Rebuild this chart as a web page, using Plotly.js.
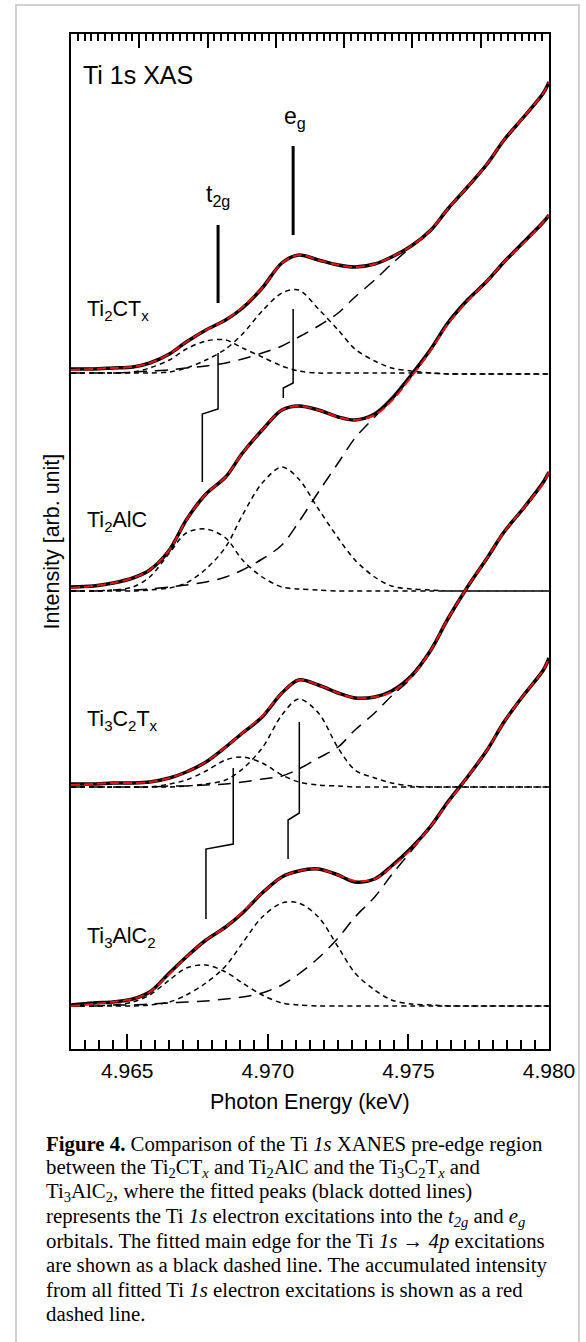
<!DOCTYPE html>
<html>
<head>
<meta charset="utf-8">
<script src="https://cdn.plot.ly/plotly-3.0.1.min.js"></script>
<style>
  html, body { margin: 0; padding: 0; background: #ffffff; }
  #chart { width: 586px; height: 1342px; }
</style>
</head>
<body>
<div id="chart"></div>
<script>
// ---------------- DATA ----------------
const energy = [4.9630, 4.9638, 4.9645, 4.9652, 4.9658, 4.9665, 4.9671, 4.9678, 4.9685, 4.9691,
                4.9698, 4.9705, 4.9711, 4.9718, 4.9725, 4.9731, 4.9738, 4.9744, 4.9751, 4.9758,
                4.9764, 4.9771, 4.9778, 4.9784, 4.9791, 4.9798, 4.9800];

// Ti2CTx (offset spectrum, top)
const ti2ctxData = [68.0, 68.0, 68.1, 68.2, 68.6, 69.5, 70.7, 71.9, 72.9, 74.1, 76.1, 78.6, 79.4, 78.9, 78.4, 78.2, 78.5, 79.2, 80.3, 81.9, 84.0, 86.2, 88.5, 90.9, 93.2, 95.6, 96.7];
const ti2ctxFit  = [67.9, 68.0, 68.1, 68.2, 68.6, 69.5, 70.7, 71.9, 72.9, 74.2, 76.1, 78.6, 79.4, 78.9, 78.4, 78.2, 78.5, 79.2, 80.3, 81.9, 84.0, 86.2, 88.5, 90.9, 93.2, 95.6, 96.7];
const ti2ctxEdge = [67.6, 67.6, 67.6, 67.7, 67.8, 67.9, 68.1, 68.3, 68.6, 69.0, 69.6, 70.3, 71.2, 72.3, 73.6, 75.2, 76.9, 78.5, 80.2, 81.8, 83.9, 86.1, 88.4, 90.8, 93.1, 95.5, 96.6];
const ti2ctxT2g  = [67.6, 67.6, 67.6, 67.7, 68.1, 68.9, 70.0, 70.8, 70.9, 70.1, 69.2, 68.3, 67.8, 67.6, 67.6, 67.6, 67.6, 67.6, 67.6, 67.6, 67.5, 67.5, 67.5, 67.5, 67.5, 67.5, 67.5];
const ti2ctxEg   = [67.6, 67.6, 67.6, 67.6, 67.6, 67.7, 68.1, 68.9, 70.0, 71.5, 73.8, 75.6, 75.9, 74.0, 71.9, 70.0, 68.8, 68.1, 67.8, 67.6, 67.5, 67.5, 67.5, 67.5, 67.5, 67.5, 67.5];

// Ti2AlC
const ti2alcData = [46.2, 46.3, 46.6, 47.1, 47.9, 49.9, 52.9, 55.5, 57.2, 59.6, 61.9, 63.9, 64.3, 63.9, 63.2, 62.9, 63.5, 65.0, 67.4, 70.0, 72.6, 74.9, 76.8, 78.7, 80.7, 82.7, 83.4];
const ti2alcFit  = [46.1, 46.3, 46.6, 47.1, 47.9, 49.9, 52.9, 55.5, 57.2, 59.6, 61.9, 63.9, 64.3, 63.9, 63.2, 62.9, 63.4, 64.8, 67.2, 69.9, 72.5, 74.8, 76.8, 78.7, 80.6, 82.7, 83.4];
const ti2alcEdge = [45.8, 45.8, 45.9, 45.9, 46.0, 46.2, 46.4, 46.7, 47.2, 47.9, 49.0, 50.4, 52.7, 55.7, 58.6, 61.1, 63.2, 65.0, 67.3, 69.9, 72.5, 74.8, 76.7, 78.6, 80.6, 82.6, 83.3];
const ti2alcT2g  = [45.8, 45.8, 45.9, 46.2, 47.2, 49.6, 51.6, 52.0, 51.1, 48.9, 47.2, 46.2, 46.0, 45.9, 45.8, 45.8, 45.8, 45.8, 45.8, 45.8, 45.8, 45.8, 45.8, 45.8, 45.8, 45.8, 45.8];
const ti2alcEg   = [45.8, 45.8, 45.8, 45.8, 45.9, 46.1, 46.6, 48.0, 50.2, 53.4, 56.6, 58.2, 57.0, 54.0, 51.1, 48.9, 47.2, 46.3, 46.0, 45.9, 45.8, 45.8, 45.8, 45.8, 45.8, 45.8, 45.8];

// Ti3C2Tx
const ti3c2txData = [26.5, 26.5, 26.6, 26.6, 26.7, 27.1, 27.7, 28.7, 30.2, 31.6, 33.2, 35.6, 36.9, 36.4, 35.6, 35.1, 35.2, 35.8, 37.3, 39.9, 43.0, 46.2, 49.1, 51.7, 54.1, 56.7, 57.7];
const ti3c2txFit  = [26.4, 26.5, 26.6, 26.6, 26.7, 27.1, 27.7, 28.7, 30.2, 31.6, 33.3, 35.6, 36.9, 36.4, 35.6, 35.1, 35.2, 35.7, 37.2, 39.9, 43.0, 46.2, 49.1, 51.7, 54.1, 56.6, 57.7];
const ti3c2txEdge = [26.2, 26.2, 26.2, 26.2, 26.2, 26.3, 26.3, 26.4, 26.5, 26.7, 27.0, 27.3, 28.0, 29.1, 30.2, 31.9, 33.6, 35.3, 37.1, 39.8, 42.9, 46.1, 49.0, 51.6, 54.0, 56.6, 57.6];
const ti3c2txT2g  = [26.2, 26.2, 26.2, 26.2, 26.2, 26.5, 26.9, 27.8, 28.9, 29.2, 28.6, 27.4, 26.7, 26.4, 26.3, 26.2, 26.2, 26.2, 26.2, 26.2, 26.2, 26.2, 26.2, 26.2, 26.2, 26.2, 26.2];
const ti3c2txEg   = [26.2, 26.2, 26.2, 26.2, 26.2, 26.2, 26.3, 26.5, 26.9, 28.0, 30.1, 33.4, 35.0, 33.6, 30.1, 27.9, 27.1, 26.6, 26.3, 26.2, 26.2, 26.2, 26.2, 26.2, 26.2, 26.2, 26.2];

// Ti3AlC2 (bottom)
const ti3alc2Data = [4.4, 4.6, 4.7, 5.0, 5.7, 7.6, 9.2, 10.9, 12.2, 13.6, 15.6, 17.2, 17.8, 18.0, 17.4, 16.7, 17.0, 18.3, 20.1, 22.3, 24.7, 27.2, 29.9, 32.7, 35.4, 37.9, 39.1];
const ti3alc2Fit  = [4.3, 4.5, 4.7, 5.0, 5.7, 7.5, 9.2, 10.9, 12.2, 13.7, 15.6, 17.2, 17.8, 18.0, 17.4, 16.8, 17.0, 18.2, 20.0, 22.3, 24.6, 27.2, 29.9, 32.7, 35.4, 37.9, 39.1];
const ti3alc2Edge = [4.3, 4.3, 4.4, 4.4, 4.5, 4.6, 4.7, 4.8, 5.0, 5.2, 5.6, 6.4, 7.5, 9.1, 11.1, 13.2, 15.2, 17.4, 19.8, 22.2, 24.6, 27.1, 29.8, 32.6, 35.3, 37.8, 39.0];
const ti3alc2T2g  = [4.3, 4.3, 4.4, 4.7, 5.4, 6.9, 8.1, 8.4, 7.7, 6.6, 5.4, 4.6, 4.4, 4.3, 4.3, 4.3, 4.3, 4.3, 4.3, 4.3, 4.3, 4.3, 4.3, 4.3, 4.3, 4.3, 4.3];
const ti3alc2Eg   = [4.3, 4.3, 4.3, 4.3, 4.4, 4.7, 5.4, 6.6, 8.3, 10.6, 13.2, 14.6, 14.6, 13.2, 10.2, 7.6, 5.9, 4.9, 4.5, 4.4, 4.3, 4.3, 4.3, 4.3, 4.3, 4.3, 4.3];

// Peak-position marker lines (energy, intensity)
const markT2gX = [4.96823, 4.96823];          const markT2gY = [82.4, 74.6];
const markEgX  = [4.9709, 4.9709];            const markEgY  = [90.3, 81.4];
const link1X = [4.96823, 4.96823, 4.96767, 4.96767]; const link1Y = [69.6, 64.0, 63.5, 56.7];
const link2X = [4.9709, 4.9709, 4.97055, 4.97055];   const link2Y = [74.0, 66.6, 66.1, 65.1];
const link3X = [4.96877, 4.96877, 4.9678, 4.9678];   const link3Y = [28.1, 20.5, 20.0, 13.0];
const link4X = [4.97112, 4.97112, 4.97072, 4.97072]; const link4Y = [32.7, 23.6, 22.9, 19.0];

const sampleLabels = ["Ti<sub>2</sub>CT<sub>x</sub>", "Ti<sub>2</sub>AlC", "Ti<sub>3</sub>C<sub>2</sub>T<sub>x</sub>", "Ti<sub>3</sub>AlC<sub>2</sub>"];
const sampleLabelY = [73.9, 52.8, 32.9, 11.2];
const xTickVals = [4.965, 4.970, 4.975, 4.980];
const xTickText = ["4.965", "4.970", "4.975", "4.980"];
const topTickRange = [0, 7];

const captionLines = [
  "<b>Figure 4.</b> Comparison of the Ti <i>1s</i> XANES pre-edge region",
  "between the Ti<sub>2</sub>CT<sub><i>x</i></sub> and Ti<sub>2</sub>AlC and the Ti<sub>3</sub>C<sub>2</sub>T<sub><i>x</i></sub> and",
  "Ti<sub>3</sub>AlC<sub>2</sub>, where the fitted peaks (black dotted lines)",
  "represents the Ti <i>1s</i> electron excitations into the <i>t</i><sub><i>2g</i></sub> and <i>e</i><sub><i>g</i></sub>",
  "orbitals. The fitted main edge for the Ti <i>1s</i> \u2192 <i>4p</i> excitations",
  "are shown as a black dashed line. The accumulated intensity",
  "from all fitted Ti <i>1s</i> electron excitations is shown as a red",
  "dashed line."
];

// ---------------- FIGURE ----------------
const spectra = [
  [ti2ctxData, ti2ctxFit, ti2ctxEdge, ti2ctxT2g, ti2ctxEg],
  [ti2alcData, ti2alcFit, ti2alcEdge, ti2alcT2g, ti2alcEg],
  [ti3c2txData, ti3c2txFit, ti3c2txEdge, ti3c2txT2g, ti3c2txEg],
  [ti3alc2Data, ti3alc2Fit, ti3alc2Edge, ti3alc2T2g, ti3alc2Eg]
];

const traces = [];
const sp = {shape: 'spline', smoothing: 0.9};
spectra.forEach(s => {
  traces.push({x: energy, y: s[3], mode: 'lines', line: Object.assign({color: '#000', width: 1.5, dash: '5px,4px'}, sp)});
  traces.push({x: energy, y: s[4], mode: 'lines', line: Object.assign({color: '#000', width: 1.5, dash: '5px,4px'}, sp)});
  traces.push({x: energy, y: s[2], mode: 'lines', line: Object.assign({color: '#000', width: 1.5, dash: '13px,8px'}, sp)});
});
spectra.forEach(s => {
  traces.push({x: energy, y: s[0], mode: 'lines', line: Object.assign({color: '#000', width: 3.5}, sp)});
  traces.push({x: energy, y: s[1], mode: 'lines', line: Object.assign({color: '#ee1111', width: 2, dash: '9px,4px'}, sp)});
});
traces.push({x: markT2gX, y: markT2gY, mode: 'lines', line: {color: '#000', width: 3}});
traces.push({x: markEgX, y: markEgY, mode: 'lines', line: {color: '#000', width: 3}});
[[link1X, link1Y], [link2X, link2Y], [link3X, link3Y], [link4X, link4Y]].forEach(p => {
  traces.push({x: p[0], y: p[1], mode: 'lines', line: {color: '#000', width: 1.5}});
});
// empty trace that attaches the top tick axis (draws no mark)
traces.push({x: [], y: [], xaxis: 'x2', yaxis: 'y', mode: 'lines'});
traces.forEach(t => { t.type = 'scatter'; t.hoverinfo = 'skip'; t.showlegend = false; });

const sans = 'Liberation Sans, Arial, sans-serif';
const annotations = [];
annotations.push({xref: 'x', yref: 'y', x: 4.96337, y: 97.4, xanchor: 'left', yanchor: 'middle',
  text: 'Ti 1s XAS', showarrow: false, font: {family: sans, size: 25, color: '#000'}});
annotations.push({xref: 'x', yref: 'y', x: 4.97095, y: 93.2, xanchor: 'center', yanchor: 'middle',
  text: 'e<sub>g</sub>', showarrow: false, font: {family: sans, size: 23, color: '#000'}});
annotations.push({xref: 'x', yref: 'y', x: 4.96822, y: 85.4, xanchor: 'center', yanchor: 'middle',
  text: 't<sub>2g</sub>', showarrow: false, font: {family: sans, size: 23, color: '#000'}});
sampleLabels.forEach((lab, i) => {
  annotations.push({xref: 'x', yref: 'y', x: 4.96350, y: sampleLabelY[i], xanchor: 'left', yanchor: 'middle',
    text: lab, showarrow: false, font: {family: sans, size: 21.5, color: '#000'}});
});
// axis titles
annotations.push({xref: 'paper', yref: 'paper', x: -0.04, y: 0.5, xanchor: 'center', yanchor: 'middle',
  textangle: -90, text: 'Intensity [arb. unit]', showarrow: false, font: {family: sans, size: 21.5, color: '#000'}});
annotations.push({xref: 'paper', yref: 'paper', x: 0.5, y: (1049 - 1102) / 1015, xanchor: 'center', yanchor: 'middle',
  text: 'Photon Energy (keV)', showarrow: false, font: {family: sans, size: 21.5, color: '#000'}});
// caption
captionLines.forEach((ln, i) => {
  const ypix = 1144 + i * 24.2;
  annotations.push({xref: 'paper', yref: 'paper', x: (44 - 71) / 478, y: (1049 - ypix) / 1015,
    xanchor: 'left', yanchor: 'middle', align: 'left', text: ln, showarrow: false,
    font: {family: 'Liberation Serif, Times New Roman, serif', size: 20.8, color: '#000'}});
});

const layout = {
  width: 586, height: 1342,
  margin: {l: 71, r: 37, t: 34, b: 293, pad: 0},
  paper_bgcolor: '#fff', plot_bgcolor: '#fff',
  showlegend: false,
  xaxis: {
    range: [4.963, 4.980], showgrid: false, zeroline: false,
    showline: true, linecolor: '#000', linewidth: 2, mirror: true,
    ticks: 'inside', ticklen: 15, tickwidth: 2, tickcolor: '#000',
    tickvals: xTickVals, ticktext: xTickText,
    minor: {dtick: 0.0005, tick0: 4.963, ticks: 'inside', ticklen: 9, tickwidth: 2, tickcolor: '#000', showgrid: false},
    tickfont: {family: sans, size: 21, color: '#000'},
    ticklabelstandoff: 2
  },
  xaxis2: {
    overlaying: 'x', anchor: 'y', side: 'top', range: topTickRange, fixedrange: true,
    showgrid: false, zeroline: false, showline: false, showticklabels: false,
    ticks: 'inside', dtick: 1, tick0: 0, ticklen: 14, tickwidth: 2, tickcolor: '#000',
    minor: {dtick: 0.1, ticks: 'inside', ticklen: 7, tickwidth: 2, tickcolor: '#000', showgrid: false}
  },
  yaxis: {
    range: [0, 101.5], showgrid: false, zeroline: false, showticklabels: false, ticks: '',
    showline: true, linecolor: '#000', linewidth: 2, mirror: true
  },
  shapes: [{
    type: 'rect', xref: 'paper', yref: 'paper',
    x0: (16 - 71) / 478, x1: (579 - 71) / 478,
    y0: (1049 - 1360) / 1015, y1: (1049 - 5) / 1015,
    line: {color: '#c4c4c4', width: 1.5}, fillcolor: 'rgba(0,0,0,0)', layer: 'below'
  }],
  annotations: annotations
};

Plotly.newPlot('chart', traces, layout, {staticPlot: true, displayModeBar: false});
</script>
</body>
</html>
